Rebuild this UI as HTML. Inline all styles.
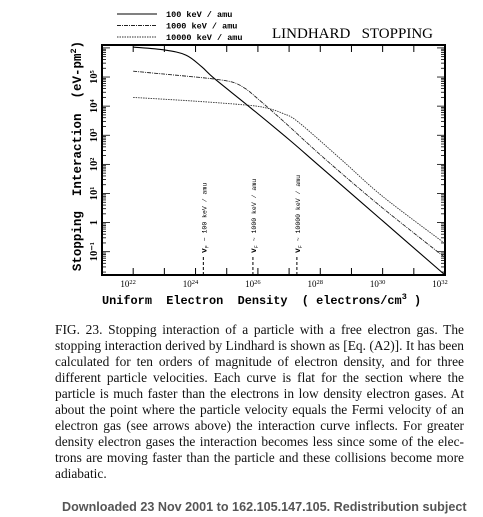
<!DOCTYPE html>
<html><head><meta charset="utf-8">
<style>
html,body{margin:0;padding:0;background:#fff;}
body{width:483px;height:517px;position:relative;overflow:hidden;}
#cap{position:absolute;left:55px;top:322px;width:409px;font-family:"Liberation Serif",serif;font-size:13.4px;line-height:16px;color:#111;}
#cap div{text-align:justify;text-align-last:justify;white-space:nowrap;height:16px;}
#cap div.last{text-align-last:left;}
#foot{position:absolute;left:62px;top:500px;font-family:"Liberation Sans",sans-serif;font-weight:bold;font-size:12.6px;color:#555;white-space:nowrap;}
svg text{white-space:pre;}
</style></head><body>
<svg id="chart" width="483" height="320" style="position:absolute;left:0;top:0" xmlns="http://www.w3.org/2000/svg"></svg>
<div id="cap">
<div>FIG. 23. Stopping interaction of a particle with a free electron gas. The</div>
<div>stopping interaction derived by Lindhard is shown as [Eq. (A2)]. It has been</div>
<div>calculated for ten orders of magnitude of electron density, and for three</div>
<div>different particle velocities. Each curve is flat for the section where the</div>
<div>particle is much faster than the electrons in low density electron gases. At</div>
<div>about the point where the particle velocity equals the Fermi velocity of an</div>
<div>electron gas (see arrows above) the interaction curve inflects. For greater</div>
<div>density electron gases the interaction becomes less since some of the elec-</div>
<div>trons are moving faster than the particle and these collisions become more</div>
<div class="last">adiabatic.</div>
</div>
<div id="foot">Downloaded 23 Nov 2001 to 162.105.147.105. Redistribution subject</div>
<script>
const xTicks=[22,24,26,28,30,32];
const yTicks=[-1,0,1,2,3,4,5];
const yTickLabels=["10\u207B\u00B9","1","10\u00B9","10\u00B2","10\u00B3","10\u2074","10\u2075"];
const seriesNames=["100 keV / amu","1000 keV / amu","10000 keV / amu"];
const s100x=[22,23,23.7,24.2,24.6,25.7,27,28,30,32];
const s100y=[6.03,5.93,5.75,5.35,4.95,4.0,2.85,1.92,0.06,-1.8];
const s1000x=[22,23,24,24.6,25.2,25.6,26,26.8,28.2,30,32];
const s1000y=[5.2,5.1,5.0,4.93,4.82,4.6,4.25,3.5,2.14,0.5,-1.2];
const s10000x=[22,24,25.7,26.3,26.8,27.3,28.7,30,32];
const s10000y=[4.3,4.17,4.03,3.93,3.75,3.45,2.14,0.9,-0.72];
const arrowX=[24.25,25.84,27.25];
const arrowLabels=["100 keV / amu","1000 keV / amu","10000 keV / amu"];

const L=102,R=445,T=45,B=275,X0=21,X1=32,Y0=-1.8,Y1=6.1;
const sx=v=>L+(v-X0)/(X1-X0)*(R-L);
const sy=v=>B-(v-Y0)/(Y1-Y0)*(B-T);
const svg=document.getElementById('chart');
const NS="http://www.w3.org/2000/svg";
function mk(tag,attrs,parent){const e=document.createElementNS(NS,tag);for(const k in attrs)e.setAttribute(k,attrs[k]);(parent||svg).appendChild(e);return e;}

const frame=mk('rect',{x:L,y:T,width:R-L,height:B-T,fill:'none',stroke:'#000','stroke-width':2});



for(let d=21;d<=32;d++){
  const x=sx(d);
  const t1=mk('line',{x1:x,x2:x,y1:B,y2:B-7,stroke:'#000','stroke-width':1});
  
  
  const t2=mk('line',{x1:x,x2:x,y1:T,y2:T+7,stroke:'#000','stroke-width':1});
  
  
}
xTicks.forEach(v=>{
  const g=mk('text',{x:sx(v)-5,y:B+12,'font-family':'Liberation Serif, serif','font-size':9,'text-anchor':'middle'});
  
  
  g.textContent='10';
  const sup=mk('tspan',{dy:-3,'font-size':6.5},g);sup.textContent=String(v);
});
for(let d=-2;d<=6;d++){
  for(let m=1;m<10;m++){
    const v=d+Math.log10(m);
    if(v<Y0||v>Y1)continue;
    const len=m===1?8:4;
    const a=mk('line',{x1:L,x2:L+len,y1:sy(v),y2:sy(v),stroke:'#000','stroke-width':0.8});
    
    
    const b=mk('line',{x1:R,x2:R-len,y1:sy(v),y2:sy(v),stroke:'#000','stroke-width':0.8});
    
    
  }
}
yTicks.forEach((v,i)=>{
  const y=sy(v);
  const t=mk('text',{x:0,y:0,transform:`translate(97,${y}) rotate(-90)`,'font-family':'Liberation Serif, serif','font-size':10.5,'font-weight':'bold','text-anchor':'middle'});
  
  
  t.textContent=yTickLabels[i];
});
const yt=mk('text',{transform:'translate(81,156) rotate(-90)','font-family':'Liberation Mono, monospace','font-weight':'bold','font-size':12.5,'text-anchor':'middle'});


yt.innerHTML='Stopping  Interaction  (eV-pm<tspan dy="-5" font-size="8.5">2</tspan><tspan dy="5">)</tspan>';
const xt=mk('text',{x:102,y:304,'font-family':'Liberation Mono, monospace','font-weight':'bold','font-size':11.9});


xt.innerHTML='Uniform  Electron  Density  ( electrons/cm<tspan dy="-5" font-size="8.5">3</tspan><tspan dy="5"> )</tspan>';
const title=mk('text',{x:272,y:38,'font-family':'Liberation Serif, serif','font-size':15});


title.textContent='LINDHARD   STOPPING';
const styles=[{dash:'',w:1.1,c:'#000'},{dash:'4 1 1 1',w:0.9,c:'#222'},{dash:'1.5 1',w:0.9,c:'#333'}];
const seriesX=[s100x,s1000x,s10000x],seriesY=[s100y,s1000y,s10000y];
const sNames=['series-100kev','series-1000kev','series-10000kev'];
function smooth(xs,ys){
  const P=xs.map((x,i)=>[sx(x),sy(ys[i])]);
  let d=`M${P[0][0]},${P[0][1]}`;
  for(let i=0;i<P.length-1;i++){
    const p0=P[Math.max(0,i-1)],p1=P[i],p2=P[i+1],p3=P[Math.min(P.length-1,i+2)];
    const c1=[p1[0]+(p2[0]-p0[0])/6,p1[1]+(p2[1]-p0[1])/6];
    const c2=[p2[0]-(p3[0]-p1[0])/6,p2[1]-(p3[1]-p1[1])/6];
    d+=` C${c1[0]},${c1[1]} ${c2[0]},${c2[1]} ${p2[0]},${p2[1]}`;
  }
  return d;
}
seriesX.forEach((xs,i)=>{
  const p=mk('path',{d:smooth(xs,seriesY[i]),fill:'none',stroke:styles[i].c,'stroke-width':styles[i].w,'stroke-dasharray':styles[i].dash});
  
  
});
seriesNames.forEach((n,i)=>{
  const y=14+i*11.5;
  const l=mk('line',{x1:117,x2:157,y1:y,y2:y,stroke:styles[i].c,'stroke-width':styles[i].w,'stroke-dasharray':styles[i].dash});
  
  
  const t=mk('text',{x:166,y:y+3,'font-family':'Liberation Mono, monospace','font-weight':'bold','font-size':8.5});
  
  
  t.textContent=n;
});
arrowX.forEach((v,i)=>{
  const x=sx(v);
  const l=mk('line',{x1:x,x2:x,y1:B-18,y2:B,stroke:'#000','stroke-width':1,'stroke-dasharray':'3 2'});
  
  
  const t=mk('text',{transform:`translate(${x+3},${B-22}) rotate(-90)`,'font-family':'Liberation Mono, monospace','font-size':6.5});
  
  
  t.innerHTML='<tspan font-weight="bold" font-size="8">v</tspan><tspan font-size="5" dy="2">F</tspan><tspan dy="-2"> ~ '+arrowLabels[i]+'</tspan>';
});
</script>
</body></html>
